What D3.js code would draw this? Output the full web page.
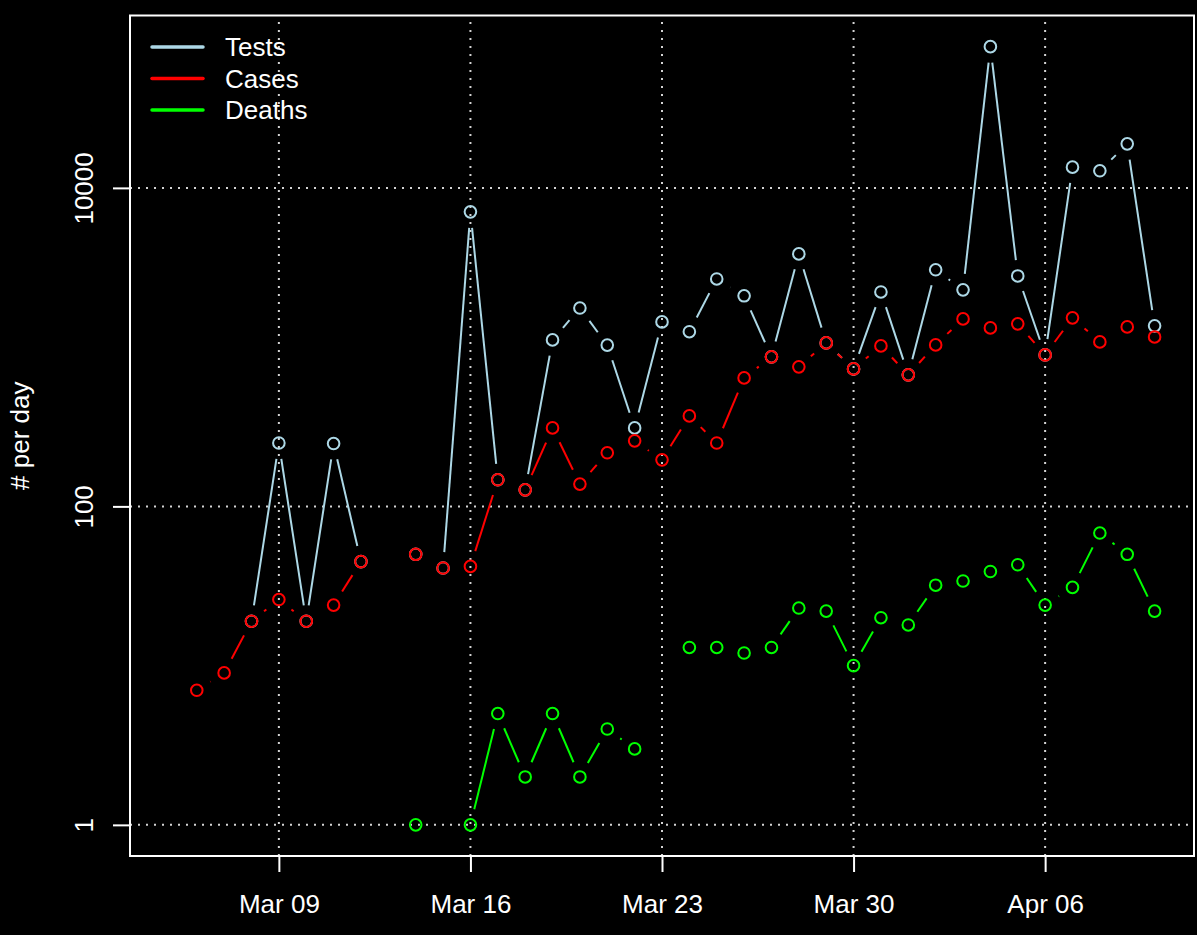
<!DOCTYPE html>
<html>
<head>
<meta charset="utf-8">
<script src="https://cdn.jsdelivr.net/npm/d3@7"></script>
<style>
  html, body { margin: 0; padding: 0; background: #000; }
  svg { display: block; }
  text { font-family: "Liberation Sans", Arial, sans-serif; fill: #fff; }
</style>
</head>
<body>
<svg id="chart" width="1197" height="935"></svg>
<script>
// ---------------- data ----------------
const dates = [
  "2020-03-05","2020-03-06","2020-03-07","2020-03-08","2020-03-09","2020-03-10","2020-03-11",
  "2020-03-12","2020-03-13","2020-03-14","2020-03-15","2020-03-16","2020-03-17","2020-03-18",
  "2020-03-19","2020-03-20","2020-03-21","2020-03-22","2020-03-23","2020-03-24","2020-03-25",
  "2020-03-26","2020-03-27","2020-03-28","2020-03-29","2020-03-30","2020-03-31","2020-04-01",
  "2020-04-02","2020-04-03","2020-04-04","2020-04-05","2020-04-06","2020-04-07","2020-04-08",
  "2020-04-09","2020-04-10"
];
const tests = [
  null, null, null, 19, 250, 19, 248,
  45, null, 50, 41, 7070, 147, 127,
  1110, 1760, 1030, 311, 1440, 1250, 2680,
  2100, 869, 3850, 1063, 730, 2220, 670,
  3060, 2290, 77100, 2800, 894, 13500, 12800,
  18900, 1360
];
const cases = [
  null, 7, 9, 19, 26, 19, 24,
  45, null, 50, 41, 42, 147, 127,
  311, 138, 217, 258, 196, 370, 250,
  641, 869, 752, 1063, 730, 1018, 670,
  1033, 1504, 1321, 1400, 894, 1527, 1079,
  1340, 1159
];
const deaths = [
  null, null, null, null, null, null, null,
  null, null, 1, null, 1, 5, 2,
  5, 2, 4, 3, null, 13, 13,
  12, 13, 23, 22, 10, 20, 18,
  32, 34, 39, 43, 24, 31, 68,
  50, 22
];
const seriesNames = ["Tests", "Cases", "Deaths"];
const seriesColors = ["#ADD8E6", "#FF0000", "#00FF00"];
const xTickDates = ["2020-03-09","2020-03-16","2020-03-23","2020-03-30","2020-04-06"];
const yTickValues = [1, 100, 10000];
const yLabel = "# per day";

// ---------------- layout ----------------
const W = 1197, H = 935;
const box = { left: 130, right: 1194, top: 15.5, bottom: 856 };
const FONT = 26;
const GAP = 16;      // gap around points for type "b" lines
const R = 5.8;

const parse = d3.utcParse("%Y-%m-%d");
const X = dates.map(parse);
const allSeries = [tests, cases, deaths];

// R-style 4% axis extension
const xMin = d3.min(X), xMax = d3.max(X);
const xSpan = xMax - xMin;
const x = d3.scaleUtc()
  .domain([new Date(+xMin - 0.04 * xSpan), new Date(+xMax + 0.04 * xSpan)])
  .range([box.left, box.right]);

const allVals = allSeries.flat().filter(v => v != null && v > 0);
const lMin = Math.log10(d3.min(allVals)), lMax = Math.log10(d3.max(allVals));
const lSpan = lMax - lMin;
const y = d3.scaleLog()
  .domain([Math.pow(10, lMin - 0.04 * lSpan), Math.pow(10, lMax + 0.04 * lSpan)])
  .range([box.bottom, box.top]);

const svg = d3.select("#chart");
svg.append("rect").attr("width", W).attr("height", H).attr("fill", "#000");

// ---------------- grid ----------------
const grid = svg.append("g").attr("stroke", "#D3D3D3").attr("stroke-width", 2)
  .attr("stroke-dasharray", "2,6").attr("fill", "none");
grid.selectAll("line.gx").data(xTickDates.map(parse)).join("line")
  .attr("class", "gx")
  .attr("x1", d => x(d)).attr("x2", d => x(d))
  .attr("y1", box.bottom).attr("y2", box.top);
grid.selectAll("line.gy").data(yTickValues).join("line")
  .attr("class", "gy")
  .attr("x1", box.left).attr("x2", box.right)
  .attr("y1", d => y(d)).attr("y2", d => y(d));

// ---------------- series (type = "b") ----------------
allSeries.forEach((vals, si) => {
  const col = seriesColors[si];
  const g = svg.append("g");
  const pts = vals.map((v, i) => (v == null ? null : [x(X[i]), y(v)]));
  const segs = [];
  for (let i = 0; i < pts.length - 1; i++) {
    const a = pts[i], b = pts[i + 1];
    if (!a || !b) continue;
    const dx = b[0] - a[0], dy = b[1] - a[1];
    const d = Math.hypot(dx, dy);
    if (d <= 2 * GAP) continue;
    const ux = dx / d, uy = dy / d;
    segs.push([a[0] + ux * GAP, a[1] + uy * GAP, b[0] - ux * GAP, b[1] - uy * GAP]);
  }
  g.selectAll("line").data(segs).join("line")
    .attr("x1", s => s[0]).attr("y1", s => s[1])
    .attr("x2", s => s[2]).attr("y2", s => s[3])
    .attr("stroke", col).attr("stroke-width", 2);
  g.selectAll("circle").data(pts.filter(p => p)).join("circle")
    .attr("cx", p => p[0]).attr("cy", p => p[1]).attr("r", R)
    .attr("fill", "none").attr("stroke", col).attr("stroke-width", 2);
});

// ---------------- axes ----------------
const xAxis = svg.append("g").attr("transform", `translate(0,${box.bottom})`)
  .call(d3.axisBottom(x).tickValues(xTickDates.map(parse))
        .tickFormat(d3.utcFormat("%b %d")).tickSize(16));
xAxis.select(".domain").remove();
xAxis.selectAll(".tick line").attr("stroke", "#fff").attr("stroke-width", 2);
xAxis.selectAll(".tick text").attr("y", 57).attr("dy", 0)
  .attr("font-size", FONT).attr("fill", "#fff")
  .style("font-family", "'Liberation Sans', Arial, sans-serif");

const yAxis = svg.append("g").attr("transform", `translate(${box.left},0)`)
  .call(d3.axisLeft(y).tickValues(yTickValues).tickFormat(d3.format("d")).tickSize(17));
yAxis.select(".domain").remove();
yAxis.selectAll(".tick line").attr("stroke", "#fff").attr("stroke-width", 2);
yAxis.selectAll(".tick text").attr("x", 0).attr("y", 0).attr("dy", 0)
  .attr("transform", "translate(-37.5,0) rotate(-90)")
  .attr("text-anchor", "middle")
  .attr("font-size", FONT).attr("fill", "#fff")
  .style("font-family", "'Liberation Sans', Arial, sans-serif");

// plot box
svg.append("rect")
  .attr("x", box.left).attr("y", box.top)
  .attr("width", box.right - box.left).attr("height", box.bottom - box.top)
  .attr("fill", "none").attr("stroke", "#fff").attr("stroke-width", 2);

// y label
svg.append("text")
  .attr("transform", `translate(29,${(box.top + box.bottom) / 2}) rotate(-90)`)
  .attr("text-anchor", "middle").attr("font-size", FONT)
  .text(yLabel);

// ---------------- legend ----------------
const legend = svg.append("g");
seriesNames.forEach((name, i) => {
  const ly = 47 + i * 31.5;
  legend.append("line").attr("x1", 152).attr("x2", 203).attr("y1", ly).attr("y2", ly)
    .attr("stroke", seriesColors[i]).attr("stroke-width", 3.5).attr("stroke-linecap", "round");
  legend.append("text").attr("x", 225).attr("y", ly).attr("dy", "0.36em")
    .attr("font-size", FONT).text(name);
});
</script>
</body>
</html>
